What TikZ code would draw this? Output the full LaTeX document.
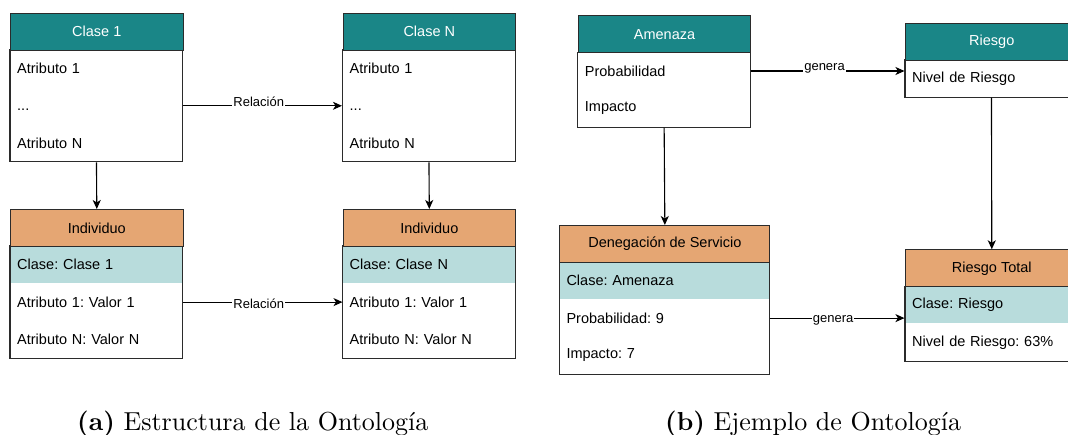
\documentclass[tikz,border=0pt]{standalone}
\usepackage{fontspec}
\newfontfamily\boxfont{Liberation Sans}
\usetikzlibrary{arrows.meta,fit}
\definecolor{hdrteal}{HTML}{1A8687}
\definecolor{hdrorange}{HTML}{E5A673}
\definecolor{band}{HTML}{B8DCDC}
\definecolor{linec}{HTML}{2B2B2B}
\tikzset{
  box/.style={draw=linec, line width=1.1pt},
  hdr/.style={box, anchor=north west, minimum height=37pt, inner sep=0pt,
    font=\boxfont\fontsize{14.5}{17}\selectfont\frenchspacing},
  hdrT/.style={hdr, fill=hdrteal, text=white},
  hdrO/.style={hdr, fill=hdrorange, text=black},
  rowA/.style={anchor=north west, minimum height=37pt, inner ysep=0pt, inner xsep=7pt,
    text width=158.5pt, align=left, font=\boxfont\fontsize{14.5}{17}\selectfont\frenchspacing},
  rowB/.style={rowA, text width=196pt},
  bandA/.style={rowA, fill=band},
  bandB/.style={rowB, fill=band},
  outline/.style={box, inner sep=0pt},
  arr/.style={draw=black, line width=1.1pt, -{Stealth[length=9pt,width=8pt,inset=2.5pt]}},
  lbl/.style={fill=white, inner sep=1pt, font=\boxfont\fontsize{13}{15}\selectfont},
  captext/.style={anchor=base west, inner sep=0pt}
}
\begin{document}
\begin{tikzpicture}[x=1pt,y=-1pt]
\useasboundingbox (0,0) rectangle (1068,435);
\clip (0,0) rectangle (1068,435);

% ---------- (a) ----------
% Clase 1
\node[rowA] (c1a) at (10,49.7) {Atributo 1};
\node[rowA] (c1b) at (c1a.south west) {\vphantom{A}...};
\node[rowA] (c1c) at (c1b.south west) {Atributo N};
\node[outline, fit=(c1a)(c1c)] (c1) {};
\node[hdrT, minimum width=172.5pt] (c1h) at (10,12.7) {Clase 1};
% Clase N
\node[rowA] (cNa) at (342.5,49.7) {Atributo 1};
\node[rowA] (cNb) at (cNa.south west) {\vphantom{A}...};
\node[rowA] (cNc) at (cNb.south west) {Atributo N};
\node[outline, fit=(cNa)(cNc)] (cN) {};
\node[hdrT, minimum width=172.5pt] (cNh) at (342.5,12.7) {Clase N};
% Individuo 1
\node[bandA] (i1a) at (10,246) {Clase: Clase 1};
\node[rowA] (i1b) at (i1a.south west) {Atributo 1: Valor 1};
\node[rowA] (i1c) at (i1b.south west) {Atributo N: Valor N};
\node[outline, fit=(i1a)(i1c)] (i1) {};
\node[hdrO, minimum width=172.5pt] (i1h) at (10,209) {Individuo};
% Individuo N
\node[bandA] (iNa) at (342.5,246) {Clase: Clase N};
\node[rowA] (iNb) at (iNa.south west) {Atributo 1: Valor 1};
\node[rowA] (iNc) at (iNb.south west) {Atributo N: Valor N};
\node[outline, fit=(iNa)(iNc)] (iN) {};
\node[hdrO, minimum width=172.5pt] (iNh) at (342.5,209) {Individuo};

\draw[arr] (c1.south) -- (i1h.north);
\draw[arr] (cN.south) -- (iNh.north);
\draw[arr] (c1.east) -- (cN.west) node[lbl, midway, xshift=-4pt, yshift=4.5pt] {Relación};
\draw[arr] (i1b.east) -- (iNb.west) node[lbl, midway, xshift=-4pt, yshift=-2pt] {Relación};

% ---------- (b) ----------
% Amenaza
\node[rowA] (ama) at (577.7,52.3) {Probabilidad};
\node[rowA] (amb) at (ama.south west) {Impacto};
\node[outline, fit=(ama)(amb)] (am) {};
\node[hdrT, minimum width=172.5pt] (amh) at (577.7,15.3) {Amenaza};
% Riesgo
\node[rowA] (ria) at (905,59.7) {Nivel de Riesgo};
\node[outline, fit=(ria)] (ri) {};
\node[hdrT, minimum width=172.5pt] (rih) at (905,22.7) {Riesgo};
% Denegacion de Servicio
\node[bandB] (dea) at (559.3,262) {Clase: Amenaza};
\node[rowB] (deb) at (dea.south west) {Probabilidad: 9};
\node[rowB] (dec) at (deb.south west) {Impacto: 7};
\node[outline, fit=(dea)(dec)] (de) {};
\node[hdrO, minimum width=210pt] (deh) at (559.3,225) {Denegación de Servicio};
% Riesgo Total
\node[bandA] (rta) at (905,286.3) {Clase: Riesgo};
\node[rowA] (rtb) at (rta.south west) {Nivel de Riesgo: 63\%};
\node[outline, fit=(rta)(rtb)] (rt) {};
\node[hdrO, minimum width=172.5pt] (rth) at (905,249.3) {Riesgo Total};

\draw[arr] (am.south) -- (deh.north);
\draw[arr] (ri.south) -- (rth.north);
\draw[arr] (ama.east) -- (ama.east -| ri.west) node[lbl, midway, xshift=-3pt, yshift=2.5pt] {genera};
\draw[arr] (deb.east) -- (deb.east -| rt.west) node[lbl, midway, xshift=-4pt, yshift=-2.5pt] {genera};

% ---------- captions ----------
\node[captext] (capa) at (77,430) {\scalebox{2.6}{\fontsize{10}{12}\selectfont\textbf{(a)} Estructura de la Ontología}};
\node[captext] (capb) at (665,430) {\scalebox{2.6}{\fontsize{10}{12}\selectfont\textbf{(b)} Ejemplo de Ontología}};
\end{tikzpicture}
\end{document}
